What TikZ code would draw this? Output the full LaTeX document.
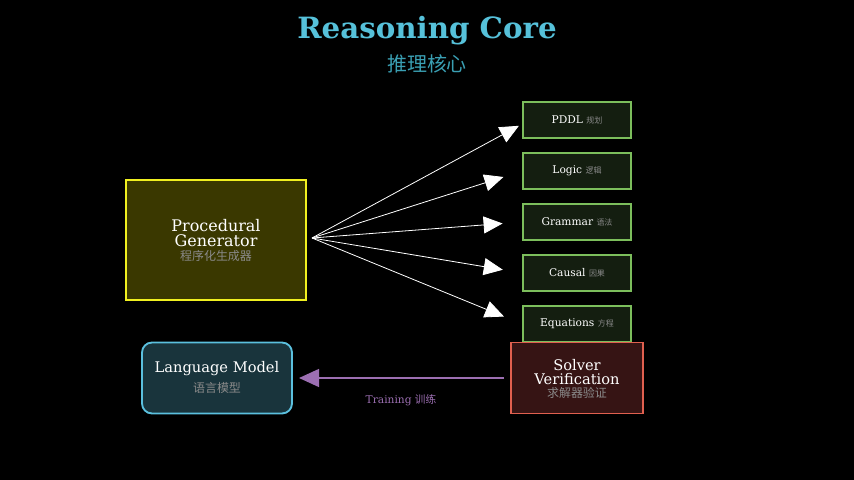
\documentclass[tikz,border=0pt]{standalone}
\usepackage{fontspec}
\setmainfont{DejaVu Serif}
\newfontfamily\cjk{Noto Sans CJK SC}
\usetikzlibrary{arrows.meta,positioning}
\definecolor{bgc}{HTML}{000000}
\definecolor{titlec}{HTML}{56C1DA}
\definecolor{subc}{HTML}{3A9FB3}
\definecolor{genfill}{HTML}{3A3800}
\definecolor{genline}{HTML}{F0F020}
\definecolor{taskfill}{HTML}{141E10}
\definecolor{taskline}{HTML}{7CBE5C}
\definecolor{lmfill}{HTML}{19343C}
\definecolor{lmline}{HTML}{5BC0DE}
\definecolor{solfill}{HTML}{361414}
\definecolor{solline}{HTML}{E0604F}
\definecolor{trainc}{HTML}{9C6FB2}
\definecolor{cjkgray}{HTML}{8A8A8A}
\newlength{\px}\setlength{\px}{0.0264cm}
\tikzset{
  task/.style={draw=taskline, fill=taskfill, line width=1.2pt, minimum width=108\px, minimum height=36\px, inner sep=0pt, text=white, font=\fontsize{8}{9}\selectfont},
  sub/.style={text=cjkgray, font=\cjk\fontsize{7}{8}\selectfont},
  flow/.style={draw=white, line width=0.6pt, shorten >=0.52cm, -{Triangle[length=0.5cm, width=0.45cm, fill=white]}}
}
\begin{document}
\begin{tikzpicture}[x=0.0264cm, y=-0.0264cm]
		\fill [bgc] (0,0) rectangle (854,480);
		\useasboundingbox (0,0) rectangle (854,480);
		% title
		\node [text=titlec, font=\bfseries\fontsize{22}{24}\selectfont] (title) at (427,31) {Reasoning Core};
		\node [text=subc, font=\cjk\fontsize{15}{17}\selectfont] (subtitle) at (427,64) {推理核心};
		% generator
		\node [draw=genline, fill=genfill, line width=1.4pt, minimum width=180\px, minimum height=120\px] (gen) at (216,240) {};
		\node [text=white, font=\fontsize{12}{13}\selectfont, align=center] at (216,233) {Procedural\\[-2pt]Generator};
		\node [sub, font=\cjk\fontsize{9}{10}\selectfont] at (216,256) {程序化生成器};
		% tasks
		\node [task] (pddl) at (577,120) {PDDL {\cjk\color{cjkgray}\fontsize{6}{7}\selectfont 规划}};
		\node [task] (logic) at (577,171) {Logic {\cjk\color{cjkgray}\fontsize{6}{7}\selectfont 逻辑}};
		\node [task] (grammar) at (577,222) {Grammar {\cjk\color{cjkgray}\fontsize{6}{7}\selectfont 语法}};
		\node [task] (causal) at (577,273) {Causal {\cjk\color{cjkgray}\fontsize{6}{7}\selectfont 因果}};
		\node [task] (eqs) at (577,324) {Equations {\cjk\color{cjkgray}\fontsize{6}{7}\selectfont 方程}};
		\coordinate (src) at (312,238);
		\draw [flow, shorten >=0.1cm] (src) -- ([yshift=-4\px]pddl.west);
		\foreach \tsk in {logic,grammar,causal,eqs}
			\draw [flow] (src) -- (\tsk.west);
		% language model
		\node [draw=lmline, fill=lmfill, line width=1.4pt, rounded corners=10\px, minimum width=150\px, minimum height=71\px] (lm) at (217,378) {};
		\node [text=white, font=\fontsize{11}{12}\selectfont] at (217,369) {Language Model};
		\node [sub, font=\cjk\fontsize{9}{10}\selectfont] at (217,388) {语言模型};
		% solver
		\node [draw=solline, fill=solfill, line width=1.4pt, minimum width=132\px, minimum height=71\px] (sol) at (577,378) {};
		\node [text=white, font=\fontsize{11}{12}\selectfont, align=center] at (577,372) {Solver\\[-1pt]Verification};
		\node [sub, font=\cjk\fontsize{9}{10}\selectfont] at (577,393) {求解器验证};
		\draw [draw=trainc, line width=1.2pt, shorten <=0.16cm, shorten >=0.16cm, -{Triangle[length=0.53cm, width=0.475cm, fill=trainc]}] (sol.west) -- (lm.east);
		\node [text=trainc, font=\fontsize{8}{9}\selectfont] (train) at (401,400) {Training {\cjk 训练}};
\end{tikzpicture}
\end{document}
